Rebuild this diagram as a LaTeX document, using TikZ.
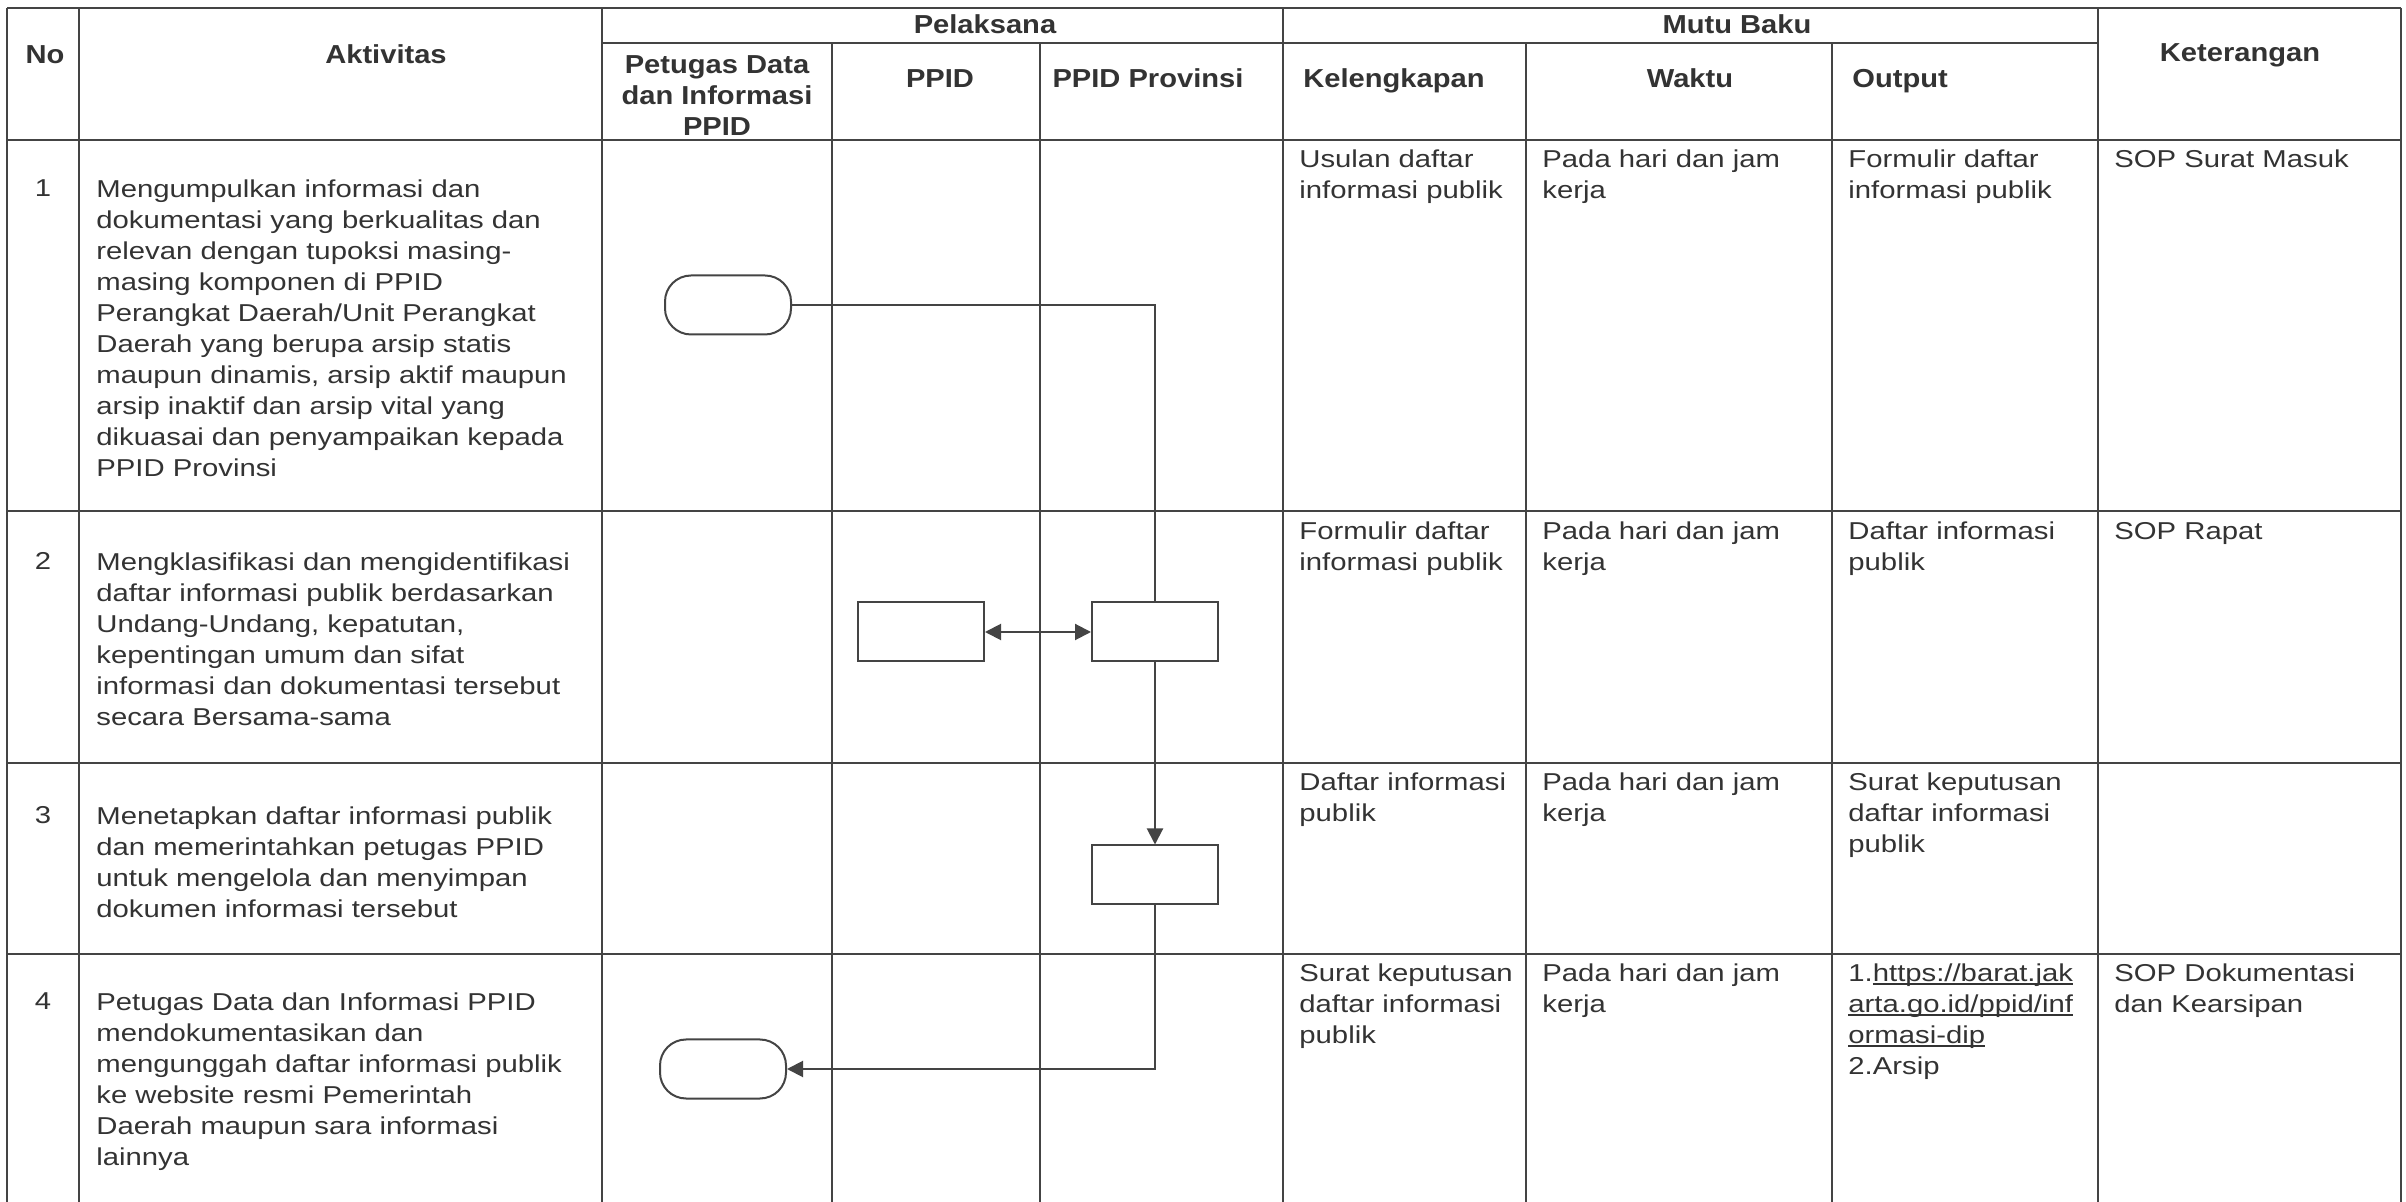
\documentclass[tikz,border=0pt]{standalone}
\usepackage{fontspec}
\setmainfont{Liberation Sans}[FakeStretch=1.2]
\newfontfamily\hdrfont{Liberation Sans}[FakeStretch=1.12]
\usetikzlibrary{arrows.meta}
\definecolor{ink}{HTML}{333333}
\definecolor{rule}{HTML}{444444}
\newcommand\bodyfont{\fontsize{12.2pt}{15.5pt}\selectfont}
\newcommand\headfont{\hdrfont\bfseries\fontsize{13pt}{15.5pt}\selectfont}
\newsavebox\ulbox
\newcommand\ulink[1]{\sbox\ulbox{#1}\rlap{\rule[-1.7pt]{\wd\ulbox}{0.7pt}}\usebox\ulbox}
\tikzset{
  gridline/.style={line width=1.1pt, draw=rule},
  txt/.style={anchor=north west, inner sep=0pt, align=left, font=\bodyfont},
  num/.style={anchor=base, inner sep=0pt, font=\bodyfont},
  hdr/.style={anchor=base, inner sep=0pt, font=\headfont},
  proc/.style={draw=rule, line width=1pt, minimum width=63pt, minimum height=29.5pt, inner sep=0pt},
  term/.style={proc, rounded corners=13pt},
  conn/.style={line width=1pt, draw=rule, fill=rule},
  >={Triangle[length=8pt,width=8pt]}
}
\begin{document}
\begin{tikzpicture}[x=0.5pt,y=-0.5pt,color=ink]
\useasboundingbox[fill=white] (0,0) rectangle (2406,1202);
% grid
\foreach \yy in {8,140,511,763,954} \draw[gridline] (7,\yy) -- (2401,\yy);
\draw[gridline] (602,43) -- (2098,43);
\foreach \xx in {7,79,602,1283,2098,2401} \draw[gridline] (\xx,8) -- (\xx,1202);
\foreach \xx in {832,1040,1526,1832} \draw[gridline] (\xx,43) -- (\xx,1202);
% headers
\node[hdr] (hNo) at (45,64) {No};
\node[hdr] (hAkt) at (386,64) {Aktivitas};
\node[hdr] (hPel) at (985,34) {Pelaksana};
\node[hdr] (hMutu) at (1737,34) {Mutu Baku};
\node[hdr] (hKet) at (2240,62) {Keterangan};
\node[anchor=north, inner sep=0pt, align=center, font=\headfont] (hPet) at (717,51.3) {\strut Petugas Data\\dan Informasi\\PPID};
\node[hdr] (hPPID) at (940,88) {PPID};
\node[hdr] (hProv) at (1148,88) {PPID Provinsi};
\node[hdr] (hKel) at (1394,88) {Kelengkapan};
\node[hdr] (hWak) at (1690,88) {Waktu};
\node[hdr,anchor=base west] (hOut) at (1852,88) {Output};
% row 1
\node[num] (n1) at (43,197) {1};
\node[txt] (a1) at (96,175.3) {\strut Mengumpulkan informasi dan\\dokumentasi yang berkualitas dan\\relevan dengan tupoksi masing-\\masing komponen di PPID\\Perangkat Daerah/Unit Perangkat\\Daerah yang berupa arsip statis\\maupun dinamis, arsip aktif maupun\\arsip inaktif dan arsip vital yang\\dikuasai dan penyampaikan kepada\\PPID Provinsi};
\node[txt] (k1) at (1299,145.3) {\strut Usulan daftar\\informasi publik};
\node[txt] (w1) at (1542,145.3) {\strut Pada hari dan jam\\kerja};
\node[txt] (o1) at (1848,145.3) {\strut Formulir daftar\\informasi publik};
\node[txt] (r1) at (2114,145.3) {\strut SOP Surat Masuk};
% row 2
\node[num] (n2) at (43,570) {2};
\node[txt] (a2) at (96,548.3) {\strut Mengklasifikasi dan mengidentifikasi\\daftar informasi publik berdasarkan\\Undang-Undang, kepatutan,\\kepentingan umum dan sifat\\informasi dan dokumentasi tersebut\\secara Bersama-sama};
\node[txt] (k2) at (1299,517.3) {\strut Formulir daftar\\informasi publik};
\node[txt] (w2) at (1542,517.3) {\strut Pada hari dan jam\\kerja};
\node[txt] (o2) at (1848,517.3) {\strut Daftar informasi\\publik};
\node[txt] (r2) at (2114,517.3) {\strut SOP Rapat};
% row 3
\node[num] (n3) at (43,824) {3};
\node[txt] (a3) at (96,802.3) {\strut Menetapkan daftar informasi publik\\dan memerintahkan petugas PPID\\untuk mengelola dan menyimpan\\dokumen informasi tersebut};
\node[txt] (k3) at (1299,768.3) {\strut Daftar informasi\\publik};
\node[txt] (w3) at (1542,768.3) {\strut Pada hari dan jam\\kerja};
\node[txt] (o3) at (1848,768.3) {\strut Surat keputusan\\daftar informasi\\publik};
% row 4
\node[num] (n4) at (43,1010) {4};
\node[txt] (a4) at (96,988.3) {\strut Petugas Data dan Informasi PPID\\mendokumentasikan dan\\mengunggah daftar informasi publik\\ke website resmi Pemerintah\\Daerah maupun sara informasi\\lainnya};
\node[txt] (k4) at (1299,959.3) {\strut Surat keputusan\\daftar informasi\\publik};
\node[txt] (w4) at (1542,959.3) {\strut Pada hari dan jam\\kerja};
\node[txt] (o4) at (1848,959.3) {\strut 1.\ulink{https://barat.jak}\\\ulink{arta.go.id/ppid/inf}\\\ulink{ormasi-dip}\\2.Arsip};
\node[txt] (r4) at (2114,959.3) {\strut SOP Dokumentasi\\dan Kearsipan};
% flow shapes
\node[term] (s1) at (728,305) {};
\node[proc] (b1) at (921,632) {};
\node[proc] (b2) at (1155,632) {};
\node[proc] (b3) at (1155,875) {};
\node[term] (s2) at (723,1069) {};
% connectors
\draw[conn,fill=none] (s1.east) -| (b2.north);
\draw[conn,<->] (b1.east) -- (b2.west);
\draw[conn,->] (b2.south) -- (b3.north);
\draw[conn,->,fill=none] (b3.south) |- (s2.east);
\end{tikzpicture}
\end{document}
